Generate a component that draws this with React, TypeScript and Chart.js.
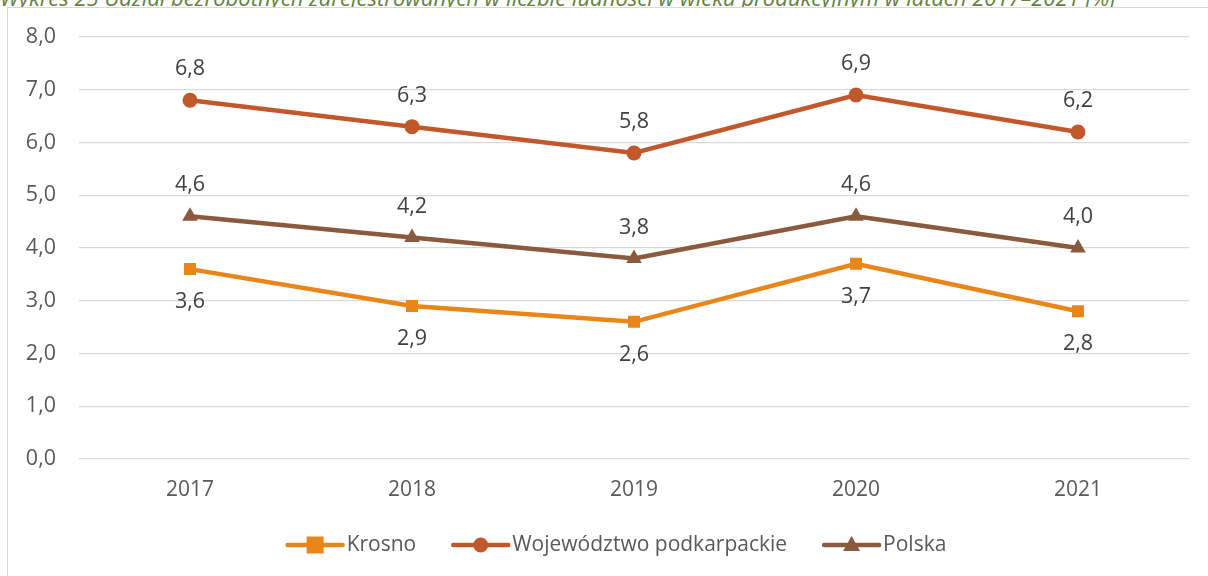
import React, { useEffect, useRef } from "react";
import { Chart, registerables } from "chart.js";

Chart.register(...registerables);

const years = ["2017", "2018", "2019", "2020", "2021"];
const krosno = [3.6, 2.9, 2.6, 3.7, 2.8];
const podkarpackie = [6.8, 6.3, 5.8, 6.9, 6.2];
const polska = [4.6, 4.2, 3.8, 4.6, 4.0];
const seriesNames = ["Krosno", "Województwo podkarpackie", "Polska"];
const seriesColors = ["#E8861A", "#C1582B", "#8A5A3E"];
const markerStyles = ["rect", "circle", "triangle"];
const labelBelow = [true, false, false];
const titleText =
  "Wykres 25 Udział bezrobotnych zarejestrowanych w liczbie ludności w wieku produkcyjnym w latach 2017–2021 [%]";

const FONT = "'Open Sans', sans-serif";

const fmt = (v: number) => v.toFixed(1).replace(".", ",");

function drawMarker(ctx: CanvasRenderingContext2D, style: string, x: number, y: number, color: string) {
  ctx.save();
  ctx.fillStyle = color;
  ctx.beginPath();
  if (style === "rect") {
    ctx.rect(x - 8.5, y - 8.5, 17, 17);
  } else if (style === "circle") {
    ctx.arc(x, y, 7.5, 0, Math.PI * 2);
  } else {
    ctx.moveTo(x, y - 9);
    ctx.lineTo(x + 8.5, y + 6);
    ctx.lineTo(x - 8.5, y + 6);
    ctx.closePath();
  }
  ctx.fill();
  ctx.restore();
}

const labelsPlugin = {
  id: "valueLabels",
  afterDatasetsDraw(chart: any) {
    const ctx = chart.ctx as CanvasRenderingContext2D;
    ctx.save();
    ctx.font = `21.5px ${FONT}`;
    ctx.fillStyle = "#404040";
    ctx.textAlign = "center";
    ctx.textBaseline = "middle";
    chart.data.datasets.forEach((ds: any, i: number) => {
      const meta = chart.getDatasetMeta(i);
      meta.data.forEach((pt: any, j: number) => {
        const v = ds.data[j];
        const y = labelBelow[i] ? pt.y + 33 : pt.y - 31;
        ctx.fillText(fmt(v), pt.x, y);
      });
    });
    ctx.restore();
  },
};

const legendPlugin = {
  id: "customLegend",
  afterDraw(chart: any) {
    const ctx = chart.ctx as CanvasRenderingContext2D;
    ctx.save();
    ctx.font = `21px ${FONT}`;
    const lineLen = 55;
    const textGap = 4;
    const itemGap = 37;
    const widths = seriesNames.map((n) => lineLen + textGap + ctx.measureText(n).width);
    const total = widths.reduce((a, b) => a + b, 0) + itemGap * (seriesNames.length - 1);
    let x = 617 - total / 2;
    const y = 545;
    seriesNames.forEach((n, i) => {
      ctx.strokeStyle = seriesColors[i];
      ctx.lineWidth = 4.5;
      ctx.lineCap = "round";
      ctx.beginPath();
      ctx.moveTo(x, y);
      ctx.lineTo(x + lineLen, y);
      ctx.stroke();
      drawMarker(ctx, markerStyles[i], x + lineLen / 2, y, seriesColors[i]);
      ctx.fillStyle = "#595959";
      ctx.textAlign = "left";
      ctx.textBaseline = "middle";
      ctx.fillText(n, x + lineLen + textGap, y);
      x += widths[i] + itemGap;
    });
    ctx.restore();
  },
};

export default function App() {
  const ref = useRef<HTMLCanvasElement | null>(null);
  useEffect(() => {
    if (!ref.current) return;
    const dataArr = [krosno, podkarpackie, polska];
    const chart = new Chart(ref.current, {
      type: "line",
      data: {
        labels: years,
        datasets: dataArr.map((d, i) => ({
          label: seriesNames[i],
          data: d,
          borderColor: seriesColors[i],
          backgroundColor: seriesColors[i],
          borderWidth: 4.5,
          pointStyle: markerStyles[i] as any,
          pointRadius: i === 0 ? 8.5 : i === 1 ? 7.5 : 9,
          pointBorderWidth: 0,
          pointBackgroundColor: seriesColors[i],
          tension: 0,
          fill: false,
        })),
      },
      options: {
        responsive: false,
        animation: false,
        layout: { padding: { left: 0, top: 37, right: 19, bottom: 0 } },
        plugins: {
          legend: { display: false },
          tooltip: { enabled: false },
          title: { display: false },
        },
        scales: {
          x: {
            offset: true,
            grid: { display: false, drawTicks: false },
            border: { display: false },
            ticks: { color: "#595959", font: { family: FONT, size: 21 }, padding: 18 },
            afterFit: (s: any) => {
              s.height = 117;
            },
          },
          y: {
            min: 0,
            max: 8,
            ticks: {
              stepSize: 1,
              color: "#595959",
              font: { family: FONT, size: 21.5 },
              padding: 23,
              callback: (v: any) => fmt(Number(v)),
            },
            grid: { color: "#d9d9d9", lineWidth: 1.3, drawTicks: false },
            border: { display: false },
            afterFit: (s: any) => {
              s.width = 79;
            },
          },
        },
      },
      plugins: [labelsPlugin, legendPlugin],
    });
    return () => chart.destroy();
  }, []);

  return (
    <div
      style={{
        position: "fixed",
        left: 0,
        top: 0,
        width: 1208,
        height: 576,
        overflow: "hidden",
        background: "#fff",
      }}
    >
      <div
        style={{
          position: "absolute",
          left: 0,
          top: 0,
          width: 1208,
          height: 8,
          overflow: "hidden",
        }}
      >
        <div
          style={{
            position: "absolute",
            left: 0,
            top: -13,
            whiteSpace: "nowrap",
            fontFamily: FONT,
            fontStyle: "italic",
            fontSize: 22,
            lineHeight: "20px",
            color: "#667f40",
          }}
        >
          {titleText}
        </div>
      </div>
      <div
        style={{
          position: "absolute",
          left: 7,
          top: 7,
          width: 1300,
          height: 700,
          border: "1.5px solid #d9d9d9",
          boxSizing: "border-box",
        }}
      />
      <canvas
        ref={ref}
        width={1208}
        height={576}
        style={{ position: "absolute", left: 0, top: 0, width: 1208, height: 576 }}
      />
    </div>
  );
}
